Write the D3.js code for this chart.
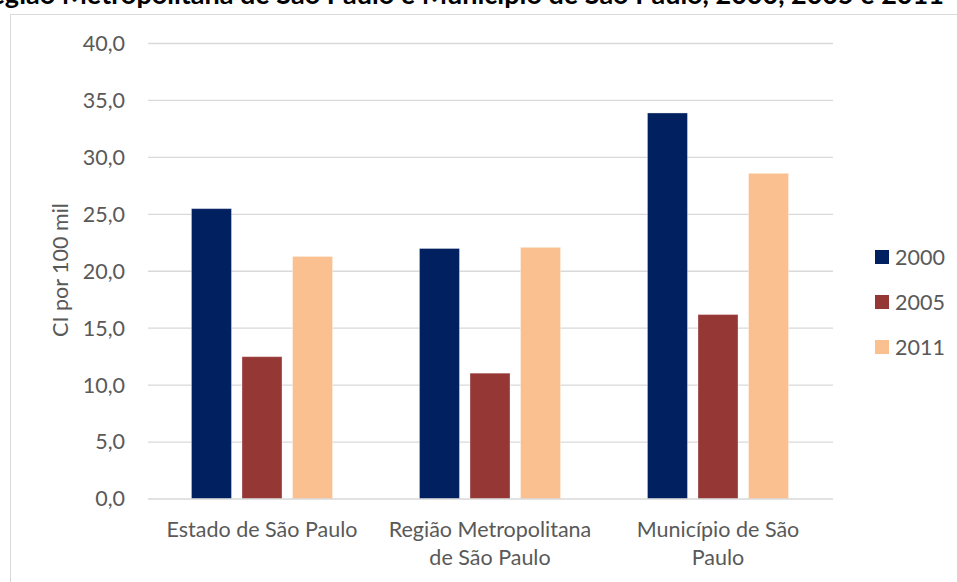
<!DOCTYPE html>
<html>
<head>
<meta charset="utf-8">
<script src="https://cdn.jsdelivr.net/npm/d3@7"></script>
<style>
  body { margin: 0; background: #fff; }
  svg { display: block; font-family: Lato, "Noto Sans", sans-serif; }
</style>
</head>
<body>
<svg id="chart-svg" width="957" height="582"></svg>
<script>
// data
const categories = ["Estado de São Paulo", "Região Metropolitana de São Paulo", "Município de São Paulo"];
const categoryLines = [["Estado de São Paulo"], ["Região Metropolitana", "de São Paulo"], ["Município de São", "Paulo"]];
const seriesNames = ["2000", "2005", "2011"];
const values2000 = [25.5, 22.0, 33.9];
const values2005 = [12.5, 11.05, 16.2];
const values2011 = [21.3, 22.1, 28.6];
const yTicks = [0, 5, 10, 15, 20, 25, 30, 35, 40];
const colors = ["#002060", "#953735", "#FAC090"];

const seriesValues = [values2000, values2005, values2011];
const data = [];
categories.forEach((c, i) => {
    seriesNames.forEach((s, j) => {
        data.push({ category: c, series: s, value: seriesValues[j][i] });
    });
});

const svg = d3.select("#chart-svg");
const margin = { top: 43.5, right: 124, bottom: 83, left: 148 };
const width = 957;
const height = 582;
const fontSize = "21.5px";

// title, cut off at the top edge like the source image
svg.append("text")
    .attr("x", -26)
    .attr("y", 4)
    .style("font-weight", "bold")
    .style("font-size", "27px")
    .attr("fill", "#000")
    .text("Região Metropolitana de São Paulo e Município de São Paulo, 2000, 2005 e 2011");

// chart frame
svg.append("rect")
    .attr("x", 10.5)
    .attr("y", 14.5)
    .attr("width", 1000)
    .attr("height", 600)
    .attr("fill", "#fff")
    .attr("stroke", "#d9d9d9")
    .attr("stroke-width", 1);

const color = d3.scaleOrdinal().domain(seriesNames).range(colors);

const x0 = d3.scaleBand()
    .domain(categories)
    .range([margin.left, width - margin.right - 1]);

const x1 = d3.scaleBand()
    .domain(seriesNames)
    .range([0, x0.bandwidth()])
    .paddingInner(0.208)
    .paddingOuter(0.86);

const y = d3.scaleLinear()
    .domain([0, 40])
    .range([height - margin.bottom, margin.top]);

// gridlines
svg.append("g")
    .selectAll("line")
    .data(yTicks.slice(1))
    .join("line")
    .attr("x1", margin.left)
    .attr("x2", width - margin.right)
    .attr("y1", d => y(d))
    .attr("y2", d => y(d))
    .attr("stroke", "#d9d9d9")
    .attr("stroke-width", 1.3);

// y axis labels
const yAxis = svg.append("g")
    .attr("transform", `translate(${margin.left}, 0)`)
    .call(d3.axisLeft(y).tickValues(yTicks).tickSize(0).tickPadding(23)
        .tickFormat(d => d3.format(".1f")(d).replace(".", ",")));
yAxis.select(".domain").remove();
yAxis.selectAll("text")
    .style("font-size", fontSize)
    .style("font-family", "Lato, 'Noto Sans', sans-serif")
    .attr("fill", "#595959");

// bars
svg.append("g")
    .selectAll("rect")
    .data(data)
    .join("rect")
    .attr("x", d => x0(d.category) + x1(d.series))
    .attr("y", d => y(d.value))
    .attr("width", x1.bandwidth())
    .attr("height", d => y(0) - y(d.value))
    .attr("fill", d => color(d.series))
    .attr("stroke", "#ffffff")
    .attr("stroke-opacity", 0.35)
    .attr("stroke-width", 1);

// baseline
svg.append("line")
    .attr("x1", margin.left)
    .attr("x2", width - margin.right)
    .attr("y1", y(0))
    .attr("y2", y(0))
    .attr("stroke", "#d9d9d9")
    .attr("stroke-width", 1.5);

// x axis category labels
const xLabels = svg.append("g")
    .selectAll("text")
    .data(categories)
    .join("text")
    .attr("x", d => x0(d) + x0.bandwidth() / 2)
    .attr("y", 537)
    .attr("text-anchor", "middle")
    .style("font-size", fontSize)
    .attr("fill", "#595959");
xLabels.each(function(d, i) {
    d3.select(this).selectAll("tspan")
        .data(categoryLines[i])
        .join("tspan")
        .attr("x", x0(d) + x0.bandwidth() / 2)
        .attr("dy", (t, k) => k === 0 ? 0 : 28)
        .text(t => t);
});

// y axis title
svg.append("text")
    .attr("transform", `translate(68, 270) rotate(-90)`)
    .attr("text-anchor", "middle")
    .style("font-size", fontSize)
    .attr("fill", "#595959")
    .text("CI por 100 mil");

// legend
const legend = svg.append("g")
    .selectAll("g")
    .data(seriesNames)
    .join("g")
    .attr("transform", (d, i) => `translate(875, ${257 + i * 45})`);
legend.append("rect")
    .attr("x", 0)
    .attr("y", -7)
    .attr("width", 14)
    .attr("height", 14)
    .attr("fill", d => color(d));
legend.append("text")
    .attr("x", 20)
    .attr("y", 8)
    .style("font-size", fontSize)
    .attr("fill", "#595959")
    .text(d => d);
</script>
</body>
</html>
